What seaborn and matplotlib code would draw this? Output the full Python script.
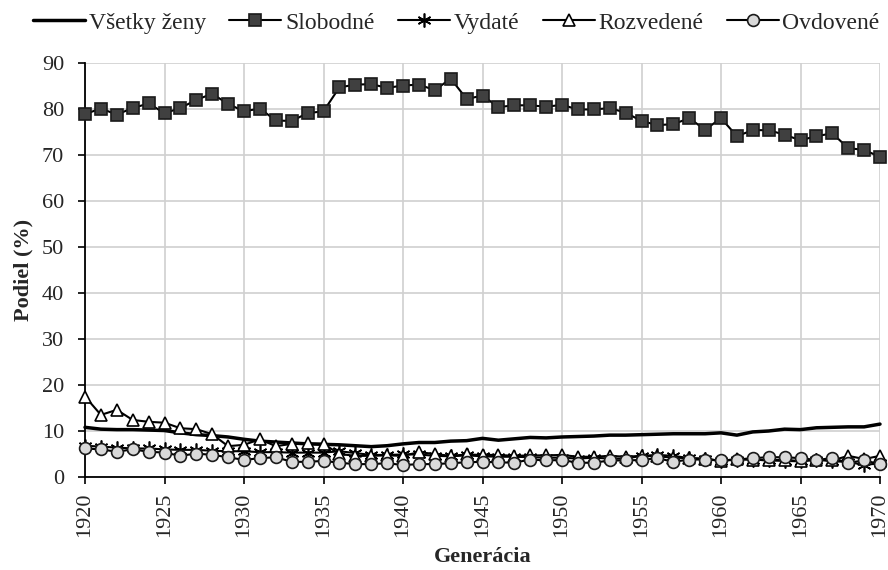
import pandas as pd
import seaborn as sns
import matplotlib.pyplot as plt
from matplotlib.ticker import MultipleLocator

# Roky narodenia (generácie)
roky = list(range(1920, 1971))

vsetky_zeny = [10.8, 10.4, 10.3, 10.3, 10.2, 10.1, 9.6, 9.2, 9.0, 8.7,
               8.2, 7.8, 7.6, 7.4, 7.2, 7.1, 7.0, 6.8, 6.6, 6.8,
               7.2, 7.5, 7.5, 7.8, 7.9, 8.4, 8.0, 8.3, 8.6, 8.5,
               8.7, 8.8, 8.9, 9.1, 9.1, 9.2, 9.3, 9.4, 9.4, 9.4,
               9.6, 9.1, 9.8, 10.0, 10.4, 10.3, 10.7, 10.8, 10.9, 10.9,
               11.5]

slobodne = [78.9, 80.1, 78.8, 80.2, 81.2, 79.1, 80.2, 82.0, 83.3, 81.1,
            79.5, 80.1, 77.5, 77.4, 79.1, 79.5, 84.7, 85.3, 85.4, 84.6,
            85.1, 85.3, 84.1, 86.6, 82.2, 82.9, 80.4, 80.8, 80.8, 80.5,
            80.9, 79.9, 79.9, 80.2, 79.2, 77.4, 76.5, 76.7, 78.0, 75.5,
            78.0, 74.1, 75.4, 75.4, 74.4, 73.2, 74.1, 74.7, 71.5, 71.1,
            69.6]

vydate = [6.8, 6.6, 6.4, 6.2, 6.2, 6.0, 5.9, 5.9, 5.7, 5.6,
          5.6, 5.4, 5.4, 5.3, 5.3, 5.3, 5.6, 5.2, 4.8, 4.8,
          4.9, 4.9, 4.6, 4.5, 4.7, 4.5, 4.4, 4.4, 4.3, 4.2,
          4.2, 4.0, 4.2, 4.0, 4.0, 4.6, 4.8, 4.6, 4.1, 4.0,
          3.5, 3.8, 3.8, 3.6, 3.5, 3.4, 3.8, 3.4, 3.3, 2.6,
          3.0]

rozvedene = [17.5, 13.5, 14.6, 12.4, 12.0, 11.8, 10.6, 10.4, 9.3, 6.7,
             7.0, 8.2, 6.7, 7.2, 7.3, 7.2, 5.0, 4.6, 4.6, 4.7,
             4.6, 5.4, 5.0, 4.6, 4.9, 4.8, 4.8, 4.6, 4.7, 4.7,
             4.8, 4.4, 4.4, 4.6, 4.4, 4.6, 4.5, 4.2, 4.1, 3.9,
             3.5, 3.9, 3.8, 3.6, 3.8, 3.4, 3.8, 3.6, 4.6, 3.9,
             4.6]

ovdovene = [6.2, 6.0, 5.5, 6.0, 5.5, 5.3, 4.6, 5.1, 4.8, 4.3,
            3.7, 4.1, 4.3, 3.3, 3.3, 3.5, 3.1, 2.8, 2.8, 3.0,
            2.6, 2.8, 2.8, 3.0, 3.2, 3.3, 3.2, 3.1, 3.8, 3.6,
            3.7, 3.1, 3.1, 3.6, 3.6, 3.7, 4.1, 3.3, 3.8, 3.8,
            3.6, 3.8, 4.1, 4.3, 4.3, 4.1, 3.7, 4.1, 3.1, 3.6,
            2.8]

df = pd.DataFrame({
    "Generácia": roky,
    "Všetky ženy": vsetky_zeny,
    "Slobodné": slobodne,
    "Vydaté": vydate,
    "Rozvedené": rozvedene,
    "Ovdovené": ovdovene,
})

sns.set_style("white")
plt.rcParams["font.family"] = ["Liberation Serif", "DejaVu Serif"]

fig, ax = plt.subplots(figsize=(8.88, 5.70), dpi=100)
fig.subplots_adjust(left=85 / 888, right=880 / 888, top=1 - 63 / 570, bottom=1 - 477 / 570)

# styl pre každú sériu
styly = {
    "Všetky ženy": dict(color="black", lw=2.5, marker=None),
    "Slobodné": dict(color="black", lw=1.5, marker="s", ms=8, mfc="#404040", mec="#1a1a1a", mew=1.2),
    "Vydaté": dict(color="black", lw=1.5, marker=(6, 2, 0), ms=10, mec="black", mew=1.2),
    "Rozvedené": dict(color="black", lw=1.5, marker="^", ms=8.5, mfc="white", mec="black", mew=1.2),
    "Ovdovené": dict(color="black", lw=1.5, marker="o", ms=8.5, mfc="#d9d9d9", mec="#1a1a1a", mew=1.2),
}

for nazov, st in styly.items():
    sns.lineplot(data=df, x="Generácia", y=nazov, ax=ax, label=nazov,
                 color=st["color"], linewidth=st["lw"], marker=st["marker"],
                 markersize=st.get("ms", 0), markerfacecolor=st.get("mfc", "none"),
                 markeredgecolor=st.get("mec", "black"), markeredgewidth=st.get("mew", 0),
                 clip_on=False, zorder=3)

ax.set_xlim(1920, 1970)
ax.set_ylim(0, 90)
ax.xaxis.set_major_locator(MultipleLocator(5))
ax.yaxis.set_major_locator(MultipleLocator(10))
ax.grid(True, color="#d0d0d0", linewidth=1.2, zorder=0)
ax.set_axisbelow(True)

for s in ["top", "right"]:
    ax.spines[s].set_visible(False)
for s in ["left", "bottom"]:
    ax.spines[s].set_color("black")
    ax.spines[s].set_linewidth(1.3)
    ax.spines[s].set_zorder(2)

ax.tick_params(axis="both", direction="out", length=5, width=1.2, color="black",
               labelsize=16, bottom=True, left=True)
ax.tick_params(axis="y", pad=10)
ax.tick_params(axis="x", pad=6)
plt.setp(ax.get_xticklabels(), rotation=90)

ax.set_xlabel("Generácia", fontsize=16, fontweight="bold", labelpad=7)
ax.set_ylabel("Podiel (%)", fontsize=16, fontweight="bold", labelpad=6)

ax.legend(loc="center", bbox_to_anchor=(0.467, 1.097), ncol=5, frameon=False,
          fontsize=17, handlelength=2.2, handletextpad=0.15, columnspacing=1.0,
          borderaxespad=0)

fig.savefig("out.png", dpi=100)
